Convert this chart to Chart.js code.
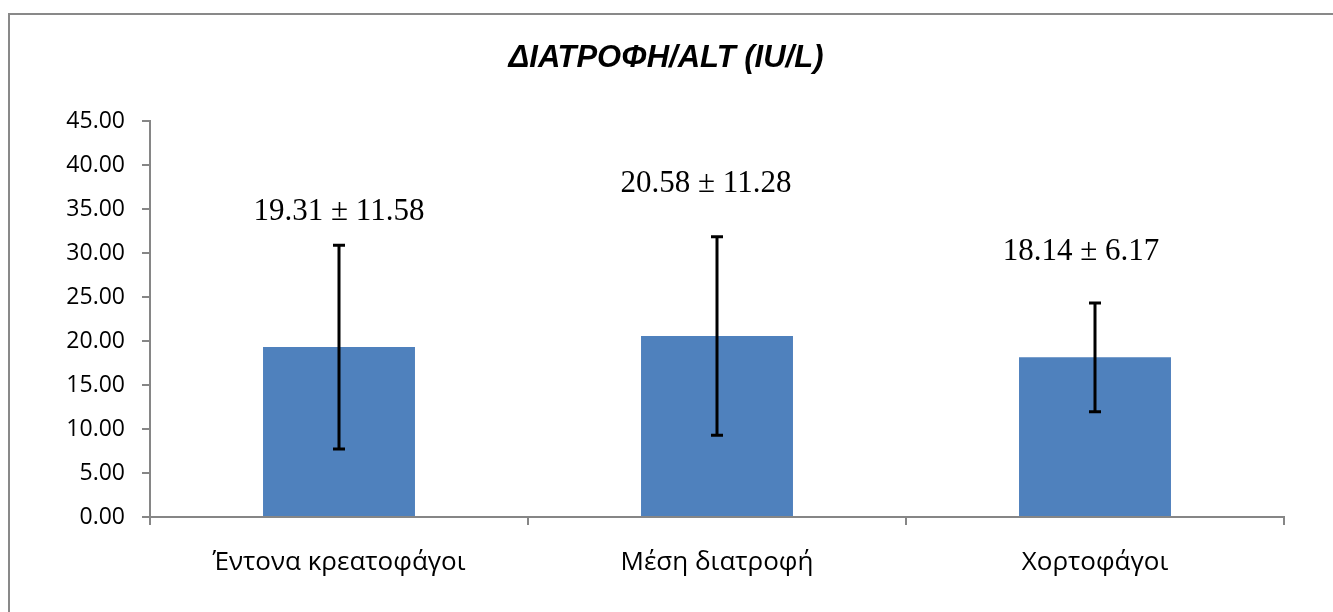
<!DOCTYPE html>
<html>
<head>
<meta charset="utf-8">
<title>ΔΙΑΤΡΟΦΗ/ALT (IU/L)</title>
<script src="https://cdn.jsdelivr.net/npm/chart.js@4"></script>
<style>
  html, body { margin: 0; padding: 0; background: #fff; overflow: hidden; width: 1333px; height: 612px; }
  #wrap { position: absolute; left: 0; top: 0; width: 1333px; height: 612px; }
</style>
</head>
<body>
<div id="wrap"><canvas id="chart" width="1333" height="612"></canvas></div>
<script>
// Diet groups and ALT (IU/L): mean and standard deviation
const categories = ['Έντονα κρεατοφάγοι', 'Μέση διατροφή', 'Χορτοφάγοι'];
const means = [19.31, 20.58, 18.14];
const sds = [11.58, 11.28, 6.17];
const yMin = 0;
const yMax = 45;
const yStep = 5;
const chartTitle = 'ΔΙΑΤΡΟΦΗ/ALT (IU/L)';

const AXIS_GREY = '#868686';
const FRAME_GREY = '#898989';
const BAR_BLUE = '#4F81BD';

// Outer frame (top and left edges) and the centred title
const framePlugin = {
  id: 'frameAndTitle',
  beforeDraw(chart) {
    const ctx = chart.ctx;
    ctx.save();
    ctx.fillStyle = '#fff';
    ctx.fillRect(0, 0, chart.width, chart.height);
    ctx.strokeStyle = FRAME_GREY;
    ctx.lineWidth = 2;
    ctx.beginPath();
    ctx.moveTo(9, chart.height + 2);
    ctx.lineTo(9, 14);
    ctx.lineTo(chart.width + 2, 14);
    ctx.stroke();

    ctx.fillStyle = '#000';
    ctx.font = 'italic bold 31px "Liberation Sans", Arial, sans-serif';
    ctx.textAlign = 'center';
    ctx.textBaseline = 'middle';
    ctx.fillText(chartTitle, 666, 58);
    ctx.restore();
  }
};

// Error bars plus "mean ± sd" labels above each bar
const errorBarPlugin = {
  id: 'errorBars',
  afterDatasetsDraw(chart, args, opts) {
    const ctx = chart.ctx;
    const meta = chart.getDatasetMeta(0);
    const y = chart.scales.y;
    ctx.save();
    meta.data.forEach((bar, i) => {
      const m = means[i], s = sds[i];
      const x = bar.x;
      const top = y.getPixelForValue(m + s);
      const bot = y.getPixelForValue(m - s);
      ctx.strokeStyle = '#000';
      ctx.lineWidth = 3;
      ctx.beginPath();
      ctx.moveTo(x, top); ctx.lineTo(x, bot);
      ctx.moveTo(x - 6, top); ctx.lineTo(x + 6, top);
      ctx.moveTo(x - 6, bot); ctx.lineTo(x + 6, bot);
      ctx.stroke();

      ctx.fillStyle = '#000';
      ctx.font = '31px "Liberation Serif", serif';
      ctx.textAlign = 'center';
      ctx.textBaseline = 'middle';
      const text = m.toFixed(2) + ' \u00B1 ' + s.toFixed(2);
      ctx.fillText(text, x + opts.dx[i], top - opts.gap[i]);
    });
    ctx.restore();
  }
};

new Chart(document.getElementById('chart'), {
  type: 'bar',
  data: {
    labels: categories,
    datasets: [{
      data: means,
      backgroundColor: BAR_BLUE,
      borderWidth: 0,
      barPercentage: 0.402,
      categoryPercentage: 1.0
    }]
  },
  options: {
    responsive: false,
    animation: false,
    events: [],
    layout: { padding: { left: 0, right: 49, top: 121, bottom: 0 } },
    plugins: {
      legend: { display: false },
      tooltip: { enabled: false },
      title: { display: false },
      errorBars: { gap: [33, 53, 51], dx: [0, -11, -14] }
    },
    scales: {
      x: {
        type: 'category',
        offset: true,
        grid: { display: true, drawOnChartArea: false, offset: true, tickLength: 8, color: AXIS_GREY, lineWidth: 2 },
        border: { color: AXIS_GREY, width: 2 },
        ticks: {
          color: '#000',
          padding: 22,
          maxRotation: 0,
          font: { family: '"Open Sans", sans-serif', size: 26 }
        },
        afterFit(scale) { scale.height = 95; }
      },
      y: {
        min: yMin,
        max: yMax,
        grid: { display: true, drawOnChartArea: false, tickLength: 8, color: AXIS_GREY, lineWidth: 2 },
        border: { color: AXIS_GREY, width: 2 },
        ticks: {
          stepSize: yStep,
          color: '#000',
          padding: 17,
          font: { family: '"Open Sans", sans-serif', size: 23 },
          callback: (v) => Number(v).toFixed(2)
        },
        afterFit(scale) { scale.width = 150; }
      }
    }
  },
  plugins: [framePlugin, errorBarPlugin]
});
</script>
</body>
</html>
